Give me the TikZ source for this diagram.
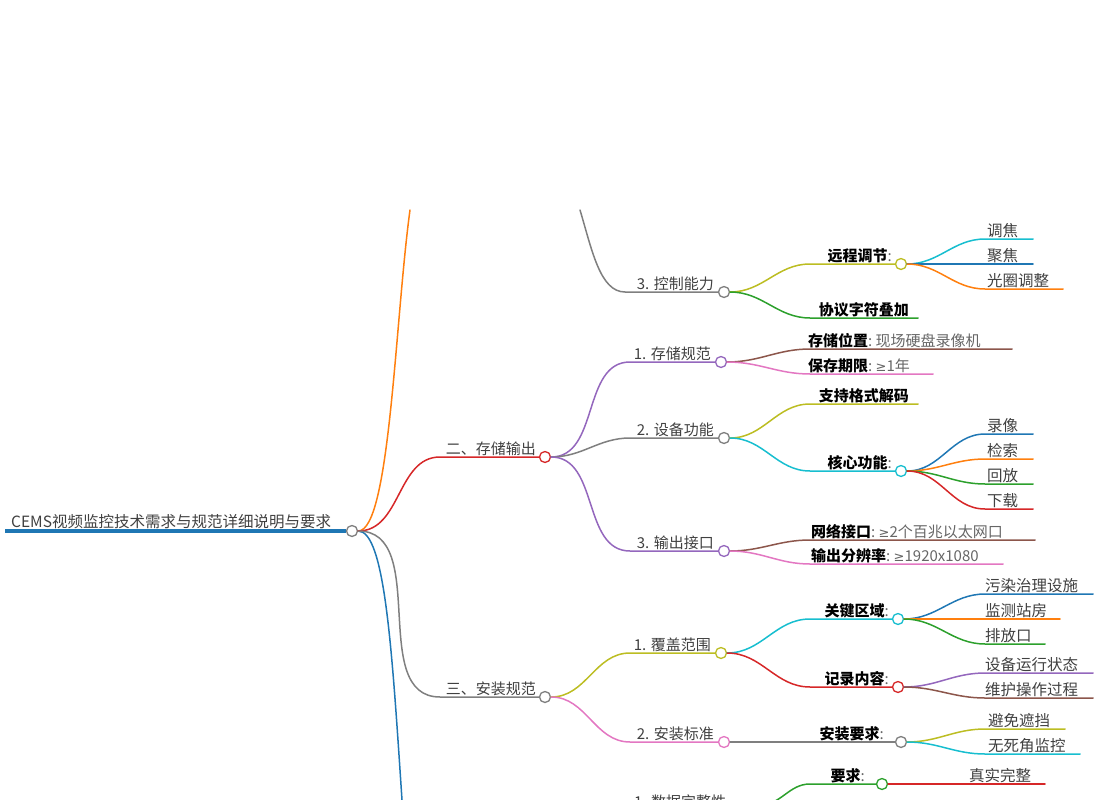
\documentclass[tikz,border=0pt]{standalone}
\usepackage{fontspec}
\setmainfont{Noto Sans CJK SC}
\newfontfamily\symf{DejaVu Sans}
\newcommand\gesym{{\symf\fontsize{13}{15}\selectfont ≥}}
\begin{document}
\begin{tikzpicture}[x=1pt,y=-1pt,
  br/.style={line width=1.5pt,line cap=round},
  dot/.style={circle,draw,fill=white,line width=1.3pt,minimum size=11pt,inner sep=0pt},
  lab/.style={anchor=south east,inner sep=1pt,text=black!75,font=\fontsize{15}{17}\selectfont},
  leaf/.style={anchor=south west,inner sep=1pt,text=black!75,font=\fontsize{15.5}{17}\selectfont},
  bl/.style={anchor=south east,inner sep=1pt,text=black,font=\fontsize{15}{17}\selectfont},
  bw/.style={anchor=south west,inner sep=1pt,text=black,font=\fontsize{15}{17}\selectfont}]
\definecolor{cB}{HTML}{1F77B4}\definecolor{cO}{HTML}{FF7F0E}\definecolor{cG}{HTML}{2CA02C}
\definecolor{cR}{HTML}{D62728}\definecolor{cP}{HTML}{9467BD}\definecolor{cN}{HTML}{8C564B}
\definecolor{cK}{HTML}{E377C2}\definecolor{cY}{HTML}{BCBD22}\definecolor{cC}{HTML}{17BECF}
\definecolor{cA}{HTML}{7F7F7F}
\useasboundingbox (0,0) rectangle (1117,800);
\clip (0,0) rectangle (1117,800);
% root
\coordinate (r0) at (5,531);
\node[dot,draw=cA] (root) at (352,531) {};
\draw[line width=3.5pt,cB] (r0) -- (root.west);
\node[anchor=south west,inner sep=1pt,text=black!75,font=\fontsize{15.5}{17}\selectfont] at (10,530) {CEMS视频监控技术需求与规范详细说明与要求};
% main branches
\coordinate (top1) at (410,210);
\draw[br,cO] (root.east) .. controls (390,531) and (395,320) .. (top1);
\draw[br,cB] (root.east) .. controls (385,531) and (392,650) .. (402,800);
\coordinate (g1) at (580,210);
\node[dot,draw=cA] (n3) at (724,292) {};
\draw[br,cA] (g1) .. controls (592,250) and (600,292) .. (625,292) -- (n3.west);
\node[lab] at (715,292) {3. 控制能力};
\node[dot,draw=cR] (n2) at (545,457) {};
\draw[br,cR] (root.east) to[out=0,in=180] (440,457) -- (n2.west);
\node[lab] at (537,457) {二、存储输出};
\node[dot,draw=cA] (n33) at (545,697) {};
\draw[br,cA] (root.east) to[out=0,in=180] (440,697) -- (n33.west);
\node[lab] at (537,697) {三、安装规范};
% 3. 控制能力
\node[dot,draw=cY] (yc) at (901,264) {};
\draw[br,cY] (n3.east) to[out=0,in=180] (810,264) -- (yc.west);
\node[bl] at (893,264) {\textbf{远程调节}\textcolor{black!60}{:}};
\draw[br,cG] (n3.east) to[out=0,in=180] (810,318) -- (918,318);
\node[bl] at (910,318) {\textbf{协议字符叠加}};
\draw[br,cC] (yc.east) to[out=0,in=180] (985,239) -- (1033,239); \node[leaf] at (986,239) {调焦};
\draw[br,cB] (yc.east) to[out=0,in=180] (985,264) -- (1033,264); \node[leaf] at (986,264) {聚焦};
\draw[br,cO] (yc.east) to[out=0,in=180] (985,289) -- (1063,289); \node[leaf] at (986,289) {光圈调整};
% 二
\node[dot,draw=cP] (s1) at (721,362) {};
\draw[br,cP] (n2.east) to[out=0,in=180] (630,362) -- (s1.west);
\node[lab] at (712,362) {1. 存储规范};
\node[dot,draw=cA] (s2) at (724,438) {};
\draw[br,cA] (n2.east) to[out=0,in=180] (630,438) -- (s2.west);
\node[lab] at (715,438) {2. 设备功能};
\node[dot,draw=cP] (s3) at (724,551) {};
\draw[br,cP] (n2.east) to[out=0,in=180] (630,551) -- (s3.west);
\node[lab] at (715,551) {3. 输出接口};
\draw[br,cN] (s1.east) to[out=0,in=180] (810,349) -- (1012,349);
\node[bw] at (807,349) {\textbf{存储位置}\textcolor{black!60}{:\ 现场硬盘录像机}};
\draw[br,cK] (s1.east) to[out=0,in=180] (810,374) -- (933,374);
\node[bw] at (807,374) {\textbf{保存期限}\textcolor{black!60}{:\ \gesym1年}};
\draw[br,cY] (s2.east) to[out=0,in=180] (810,404) -- (918,404);
\node[bl] at (910,404) {\textbf{支持格式解码}};
\node[dot,draw=cC] (hx) at (901,471) {};
\draw[br,cC] (s2.east) to[out=0,in=180] (810,471) -- (hx.west);
\node[bl] at (893,471) {\textbf{核心功能}\textcolor{black!60}{:}};
\draw[br,cB] (hx.east) to[out=0,in=180] (985,434) -- (1033,434); \node[leaf] at (986,434) {录像};
\draw[br,cO] (hx.east) to[out=0,in=180] (985,459) -- (1033,459); \node[leaf] at (986,459) {检索};
\draw[br,cG] (hx.east) to[out=0,in=180] (985,484) -- (1033,484); \node[leaf] at (986,484) {回放};
\draw[br,cR] (hx.east) to[out=0,in=180] (985,509) -- (1033,509); \node[leaf] at (986,509) {下载};
\draw[br,cN] (s3.east) to[out=0,in=180] (810,540) -- (1035,540);
\node[bw] at (810,540) {\textbf{网络接口}\textcolor{black!60}{:\ \gesym2个百兆以太网口}};
\draw[br,cK] (s3.east) to[out=0,in=180] (810,564) -- (1003,564);
\node[bw] at (810,564) {\textbf{输出分辨率}\textcolor{black!60}{:\ \gesym1920x1080}};
% 三
\node[dot,draw=cY] (a1) at (721,653) {};
\draw[br,cY] (n33.east) to[out=0,in=180] (630,653) -- (a1.west);
\node[lab] at (712,653) {1. 覆盖范围};
\node[dot,draw=cK] (a2) at (724,742) {};
\draw[br,cK] (n33.east) to[out=0,in=180] (630,742) -- (a2.west);
\node[lab] at (715,742) {2. 安装标准};
\node[dot,draw=cC] (gq) at (898,619) {};
\draw[br,cC] (a1.east) to[out=0,in=180] (810,619) -- (gq.west);
\node[bl] at (890,619) {\textbf{关键区域}\textcolor{black!60}{:}};
\node[dot,draw=cR] (jl) at (898,687) {};
\draw[br,cR] (a1.east) to[out=0,in=180] (810,687) -- (jl.west);
\node[bl] at (890,687) {\textbf{记录内容}\textcolor{black!60}{:}};
\draw[br,cB] (gq.east) to[out=0,in=180] (985,594) -- (1093,594); \node[leaf] at (984,594) {污染治理设施};
\draw[br,cO] (gq.east) to[out=0,in=180] (985,619) -- (1060,619); \node[leaf] at (984,619) {监测站房};
\draw[br,cG] (gq.east) to[out=0,in=180] (985,644) -- (1045,644); \node[leaf] at (984,644) {排放口};
\draw[br,cP] (jl.east) to[out=0,in=180] (985,673) -- (1093,673); \node[leaf] at (984,673) {设备运行状态};
\draw[br,cN] (jl.east) to[out=0,in=180] (985,698) -- (1093,698); \node[leaf] at (984,698) {维护操作过程};
\node[dot,draw=cA] (az) at (901,742) {};
\draw[br,cA] (a2.east) -- (az.west);
\node[bl] at (885,742) {\textbf{安装要求}\textcolor{black!60}{:}};
\draw[br,cY] (az.east) to[out=0,in=180] (985,729) -- (1065,729); \node[leaf] at (987,729) {避免遮挡};
\draw[br,cC] (az.east) to[out=0,in=180] (985,754) -- (1080,754); \node[leaf] at (987,754) {无死角监控};
% bottom partial
\coordinate (bb) at (760,805);
\node[dot,draw=cG] (yq) at (882,784) {};
\draw[br,cG] (bb) to[out=0,in=180] (810,784) -- (yq.west);
\node[bl] at (866,784) {\textbf{要求}\textcolor{black!60}{:}};
\draw[br,cR] (yq.east) -- (1045,784); \node[leaf] at (968,784) {真实完整};
\node[anchor=south west,inner sep=1pt,text=black!75,font=\fontsize{15}{17}\selectfont] at (633,810) {1. 数据完整性};
\end{tikzpicture}
\end{document}
